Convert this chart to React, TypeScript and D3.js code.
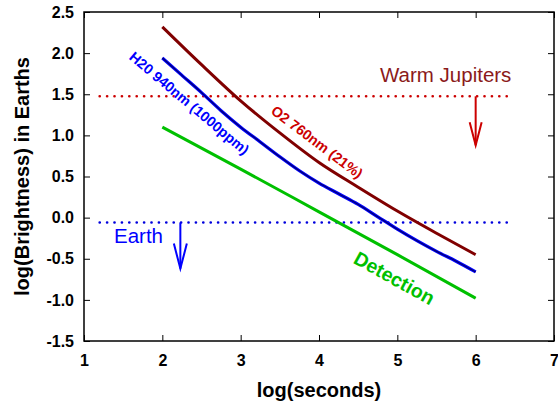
import React, { useEffect, useRef } from 'react';
import * as d3 from 'd3';

// O2 760nm line (21%)
const o2X = [2, 2.5, 3, 3.5, 4, 4.5, 5, 5.5, 6];
const o2Y = [2.32, 1.86, 1.42, 1.03, 0.67, 0.37, 0.08, -0.19, -0.45];

// H2O 940nm line (1000ppm)
const h2oX = [2, 2.25, 2.5, 2.75, 3, 3.25, 3.5, 3.75, 4, 4.25, 4.5, 4.75, 5, 5.25, 5.5, 5.75, 6];
const h2oY = [1.94, 1.73, 1.52, 1.3, 1.1, 0.92, 0.74, 0.57, 0.42, 0.29, 0.16, 0.01, -0.14, -0.28, -0.41, -0.53, -0.66];

// detection threshold
const detX = [2, 3, 4, 5, 6];
const detY = [1.1, 0.59, 0.07, -0.45, -0.98];

// reference levels and arrows
const jupiterLevel = 1.475;
const earthLevel = -0.06;
const levelSpan = [1.2, 6.4];
const jupiterArrow = [6.0, 0.88]; // x, arrow tip
const earthArrow = [2.23, -0.62];

const xTicks = [1, 2, 3, 4, 5, 6, 7];
const yTicks = [-1.5, -1.0, -0.5, 0.0, 0.5, 1.0, 1.5, 2.0, 2.5];

const FONT = '"Liberation Sans", Arial, Helvetica, sans-serif';

const App = () => {
  const svgRef = useRef(null);

  useEffect(() => {
    const width = 558;
    const height = 410;
    const margin = { left: 84, right: 4, top: 12, bottom: 69 };

    const svg = d3.select(svgRef.current).attr('width', width).attr('height', height);
    svg.selectAll('*').remove();

    const x = d3.scaleLinear().domain([1, 7]).range([margin.left, width - margin.right]);
    const y = d3.scaleLinear().domain([-1.5, 2.5]).range([height - margin.bottom, margin.top]);

    const fmt = (d) => d.toFixed(1);
    const tickLen = 6;

    // axes, ticks pointing inward on all four sides
    const styleAxis = (g) => {
      g.select('.domain').remove();
      g.selectAll('line').attr('stroke', '#000').attr('stroke-width', 1);
      g.selectAll('text')
        .attr('font-family', FONT)
        .attr('font-size', 16)
        .attr('font-weight', 'bold')
        .attr('fill', '#000');
    };

    svg.append('g')
      .attr('transform', `translate(0,${y(-1.5)})`)
      .call(d3.axisBottom(x).tickValues(xTicks).tickSize(-tickLen).tickPadding(14).tickFormat((d) => d))
      .call(styleAxis);

    svg.append('g')
      .attr('transform', `translate(0,${y(2.5)})`)
      .call(d3.axisTop(x).tickValues(xTicks).tickSize(-tickLen).tickFormat(''))
      .call(styleAxis);

    svg.append('g')
      .attr('transform', `translate(${x(1)},0)`)
      .call(d3.axisLeft(y).tickValues(yTicks).tickSize(-tickLen).tickPadding(10).tickFormat(fmt))
      .call(styleAxis);

    svg.append('g')
      .attr('transform', `translate(${x(7)},0)`)
      .call(d3.axisRight(y).tickValues(yTicks).tickSize(-tickLen).tickFormat(''))
      .call(styleAxis);

    // frame
    svg.append('rect')
      .attr('x', x(1))
      .attr('y', y(2.5))
      .attr('width', x(7) - x(1))
      .attr('height', y(-1.5) - y(2.5))
      .attr('fill', 'none')
      .attr('stroke', '#000')
      .attr('stroke-width', 1.5);

    // dotted reference levels
    const levels = [
      { v: jupiterLevel, c: '#cc0000' },
      { v: earthLevel, c: '#0000dd' },
    ];
    levels.forEach((l) => {
      svg.append('line')
        .attr('x1', x(levelSpan[0]))
        .attr('x2', x(levelSpan[1]))
        .attr('y1', y(l.v))
        .attr('y2', y(l.v))
        .attr('stroke', l.c)
        .attr('stroke-width', 2.6)
        .attr('stroke-linecap', 'round')
        .attr('stroke-dasharray', '0.1 7.3');
    });

    // arrows
    const drawArrow = (ax, from, to, color, headLen, headW) => {
      const g = svg.append('g').attr('stroke', color).attr('stroke-width', 2).attr('fill', 'none');
      const px = x(ax);
      const tip = y(to);
      g.append('line').attr('x1', px).attr('x2', px).attr('y1', y(from)).attr('y2', tip);
      g.append('path').attr('d', `M${px - headW},${tip - headLen}L${px},${tip}L${px + headW},${tip - headLen}`);
    };
    drawArrow(jupiterArrow[0], jupiterLevel, jupiterArrow[1], '#cc0000', 23, 6);
    drawArrow(earthArrow[0], earthLevel, earthArrow[1], '#0000ff', 25, 6.5);

    // curves
    const line = d3.line()
      .x((d) => x(d[0]))
      .y((d) => y(d[1]))
      .curve(d3.curveMonotoneX);

    const o2 = d3.zip(o2X, o2Y);
    const h2o = d3.zip(h2oX, h2oY);
    const det = d3.zip(detX, detY);

    svg.append('path').attr('d', line(det)).attr('fill', 'none').attr('stroke', '#00c000').attr('stroke-width', 3);
    svg.append('path').attr('d', line(h2o)).attr('fill', 'none').attr('stroke', '#0000ff').attr('stroke-width', 3.2);
    svg.append('path').attr('d', line(h2o)).attr('fill', 'none').attr('stroke', '#000070').attr('stroke-width', 1.2);
    svg.append('path').attr('d', line(o2)).attr('fill', 'none').attr('stroke', '#800000').attr('stroke-width', 3);

    // annotations
    const label = (txt, px, py, color, size, weight, rot) =>
      svg.append('text')
        .attr('transform', `translate(${px},${py}) rotate(${rot})`)
        .attr('text-anchor', rot === 0 ? 'start' : 'middle')
        .attr('font-family', FONT)
        .attr('font-size', size)
        .attr('font-weight', weight)
        .attr('fill', color)
        .text(txt);

    label('Warm Jupiters', 380, 82, '#8b1a1a', 20.5, 'normal', 0);
    label('Earth', 114, 243, '#0000ff', 20.5, 'normal', 0);
    label('H20 940nm (1000ppm)', 186, 107, '#0000ff', 14.3, 'bold', 40);
    label('O2 760nm (21%)', 314, 146, '#cc0000', 14.3, 'bold', 37);
    label('Detection', 391, 284, '#00c000', 19.5, 'bold', 29);

    // axis titles
    svg.append('text')
      .attr('x', (x(1) + x(7)) / 2)
      .attr('y', 397)
      .attr('text-anchor', 'middle')
      .attr('font-family', FONT)
      .attr('font-size', 20)
      .attr('font-weight', 'bold')
      .text('log(seconds)');

    svg.append('text')
      .attr('transform', `translate(29,${(y(-1.5) + y(2.5)) / 2}) rotate(-90)`)
      .attr('text-anchor', 'middle')
      .attr('font-family', FONT)
      .attr('font-size', 20)
      .attr('font-weight', 'bold')
      .text('log(Brightness) in Earths');
  }, []);

  return (
    <div>
      <svg ref={svgRef} style={{ position: 'absolute', left: 0, top: 0, background: '#fff' }}></svg>
    </div>
  );
};

export default App;
